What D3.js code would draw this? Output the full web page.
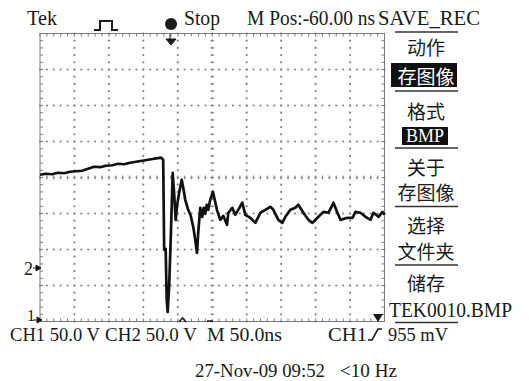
<!DOCTYPE html>
<html>
<head>
<meta charset="utf-8">
<script src="https://cdn.jsdelivr.net/npm/d3@7"></script>
<style>
  body { margin: 0; background: #fff; }
  svg { display: block; }
</style>
</head>
<body>
<div id="scope"></div>
<script>
// CH1 trace: time from left edge (ns), volts above CH1 ground
var timeNs = [0, 8.7, 17.4, 26.2, 34.9, 43.6, 52.3, 61.0, 69.8, 78.5, 87.2, 95.9, 104.7, 113.4, 122.1,
  130.8, 139.5, 148.3, 157.0, 165.7, 171.5, 175.9, 178.8,
  180.2, 182.4, 183.9, 185.3, 187.5, 189.7, 192.6, 194.8, 196.9, 199.1, 202.0, 205.7, 207.9, 210.8,
  215.1, 218.8, 222.4, 225.3, 227.8, 229.7, 232.6, 235.5, 237.6, 239.8, 242.0, 244.2, 247.1, 251.0,
  253.6, 256.8, 261.6, 266.0, 271.4, 273.3, 279.1, 283.4, 287.8, 293.6, 298.0, 305.2, 312.5, 319.8,
  327.0, 334.3, 338.7, 345.9, 351.7, 356.1, 363.4, 370.6, 375.0, 382.3, 389.5, 395.4, 402.6, 411.3,
  418.6, 425.9, 431.7, 436.1, 446.2, 453.5, 457.9, 465.1, 472.4, 479.7, 484.0, 491.3, 497.1, 500];
var volts = [203.8, 205.2, 204.5, 206.6, 205.9, 208.0, 208.7, 209.4, 212.2, 214.9, 214.3, 216.3, 217.0, 219.1, 218.4,
  220.5, 221.9, 223.3, 224.7, 226.1, 226.8, 227.5, 224.7,
  99.5, 100.9, 30.0, 13.2, 50.8, 113.4, 206.6, 176.0, 141.2, 162.1, 178.8, 196.9, 185.7, 169.0,
  155.1, 146.8, 131.5, 113.4, 95.3, 124.5, 157.9, 145.3, 157.9, 149.6, 162.1, 155.1, 169.0, 180.2,
  169.0, 155.1, 141.2, 146.8, 134.3, 151.0, 157.9, 148.2, 155.1, 164.9, 148.2, 144.0, 137.0, 151.0,
  155.1, 159.3, 155.1, 141.2, 137.0, 145.4, 155.1, 157.9, 162.1, 151.0, 141.2, 137.0, 144.0, 152.3,
  151.0, 164.9, 151.0, 141.2, 144.0, 144.0, 152.3, 151.0, 145.4, 141.2, 151.0, 145.4, 152.3, 148.2];

var timeTicks = d3.range(0, 501, 50);     // 10 div, 50 ns/div
var voltTicks = d3.range(0, 401, 50);     // 8 div, 50 V/div
var timeMinor = d3.range(0, 501, 10);
var voltMinor = d3.range(0, 401, 10);

var headerText = ["Tek", "Stop", "M Pos:-60.00 ns", "SAVE_REC"];
var footerText = ["CH1 50.0 V", "CH2 50.0 V", "M 50.0ns", "CH1", "955 mV"];
var statusText = ["27-Nov-09 09:52", "<10 Hz"];
var menuLabels = ["动作", "存图像", "格式", "BMP", "关于", "存图像", "选择", "文件夹", "储存", "TEK0010.BMP"];

var width = 529, height = 381;
var serif = "'Liberation Serif', 'DejaVu Serif', serif";
var cjk = "'Noto Sans CJK SC', sans-serif";
var ink = "#1a1a1a";

var svg = d3.select("#scope").append("svg")
    .attr("width", width)
    .attr("height", height);

var x = d3.scaleLinear().domain([0, 500]).range([40, 384.5]);
var y = d3.scaleLinear().domain([0, 400]).range([321.5, 33.5]);

// graticule dots
var grid = svg.append("g").attr("fill", "#858585");
timeTicks.slice(1, -1).forEach(function(t) {
    grid.selectAll(null).data(voltMinor).enter()
        .append("circle")
        .attr("cx", x(t)).attr("cy", v => y(v)).attr("r", 1.1);
});
voltTicks.slice(1, -1).forEach(function(v) {
    grid.selectAll(null).data(timeMinor).enter()
        .append("circle")
        .attr("cx", t => x(t)).attr("cy", y(v)).attr("r", 1.1);
});

// centre cross ticks
var cross = svg.append("g").attr("stroke", "#8c8c8c").attr("stroke-width", 1);
cross.selectAll(null).data(timeMinor).enter().append("line")
    .attr("x1", t => x(t)).attr("x2", t => x(t))
    .attr("y1", y(200) - 2).attr("y2", y(200) + 2);
cross.selectAll(null).data(voltMinor).enter().append("line")
    .attr("y1", v => y(v)).attr("y2", v => y(v))
    .attr("x1", x(250) - 2).attr("x2", x(250) + 2);

// frame with minor ticks
var frame = svg.append("g").attr("stroke", "#7a7a7a").attr("stroke-width", 1).attr("fill", "none");
frame.append("rect")
    .attr("x", x(0)).attr("y", y(400))
    .attr("width", x(500) - x(0)).attr("height", y(0) - y(400));
frame.selectAll(null).data(timeMinor).enter().append("path")
    .attr("d", t => "M" + x(t) + "," + y(400) + "v3M" + x(t) + "," + y(0) + "v-3");
frame.selectAll(null).data(voltMinor).enter().append("path")
    .attr("d", v => "M" + x(0) + "," + y(v) + "h3M" + x(500) + "," + y(v) + "h-3");

// waveform
var line = d3.line()
    .x((d, i) => x(timeNs[i]))
    .y(d => y(d));
svg.append("path")
    .datum(volts)
    .attr("d", line)
    .attr("fill", "none")
    .attr("stroke", "#111")
    .attr("stroke-width", 2.7)
    .attr("stroke-linejoin", "round");

// header
var head = svg.append("g").attr("font-family", serif).attr("font-size", 20).attr("fill", ink);
var headPos = [[27, 30], [184, 36], [247, 128], [378, 102]];
head.selectAll("text").data(headerText).enter().append("text")
    .attr("x", (d, i) => headPos[i][0]).attr("y", 25)
    .attr("textLength", (d, i) => headPos[i][1])
    .attr("lengthAdjust", "spacingAndGlyphs")
    .text(d => d);

// run-state icons
svg.append("path").attr("d", "M94,30H100V21H112V30H118")
    .attr("fill", "none").attr("stroke", ink).attr("stroke-width", 2);
svg.append("circle").attr("cx", 171).attr("cy", 24).attr("r", 6).attr("fill", ink);
svg.append("path").attr("d", "M170,34V40M166,39L171,45L176,39Z").attr("stroke", ink).attr("fill", ink);

// footer
var foot = svg.append("g").attr("font-family", serif).attr("font-size", 19).attr("fill", ink);
var footPos = [[10, 90], [105, 92], [207, 75], [328, 39], [388, 60]];
foot.selectAll("text").data(footerText).enter().append("text")
    .attr("x", (d, i) => footPos[i][0]).attr("y", 341)
    .attr("textLength", (d, i) => footPos[i][1])
    .attr("lengthAdjust", "spacingAndGlyphs")
    .text(d => d);
svg.append("path").attr("d", "M368,340H372L378,329H382")
    .attr("fill", "none").attr("stroke", ink).attr("stroke-width", 1.6);
var statusPos = [[195, 130], [340, 57]];
svg.append("g").attr("font-family", serif).attr("font-size", 19).attr("fill", ink)
    .selectAll("text").data(statusText).enter().append("text")
    .attr("x", (d, i) => statusPos[i][0]).attr("y", 377)
    .attr("textLength", (d, i) => statusPos[i][1])
    .attr("lengthAdjust", "spacingAndGlyphs")
    .text(d => d);

// channel ground markers
svg.append("text").attr("x", 24).attr("y", 275).attr("font-family", serif).attr("font-size", 18)
    .attr("fill", ink).text("2");
svg.append("path").attr("d", "M33,268H37M36,265L41,268L36,271Z").attr("stroke", ink).attr("fill", ink);
svg.append("text").attr("x", 27).attr("y", 321).attr("font-family", serif).attr("font-size", 16)
    .attr("fill", ink).text("1");
svg.append("path").attr("d", "M33,320H38M37,317L42,320L37,323Z").attr("stroke", ink).attr("fill", ink);
svg.append("path").attr("d", "M179,322L182.5,318L186,322").attr("fill", "none").attr("stroke", ink).attr("stroke-width", 1.5);
svg.append("path").attr("d", "M207,321H213").attr("stroke", ink).attr("stroke-width", 1.5);
svg.append("path").attr("d", "M373,314L383,314L378,322Z").attr("fill", ink);

// side menu
var menu = svg.append("g");
var cx = 426;
[32, 91, 148, 206.5, 265, 322.5].forEach(function(ly) {
    menu.append("line").attr("x1", 395).attr("x2", 458).attr("y1", ly).attr("y2", ly)
        .attr("stroke", "#333").attr("stroke-width", 1.5);
});
menu.append("rect").attr("x", 391).attr("y", 63).attr("width", 66).attr("height", 24).attr("fill", "#111");
menu.append("rect").attr("x", 402).attr("y", 127).attr("width", 46).attr("height", 18).attr("fill", "#111");
var menuY = [46.5, 75, 110, 136, 166.5, 191.5, 224.5, 250, 282];
menuLabels.slice(0, 9).forEach(function(lbl, i) {
    var isBmp = lbl == "BMP";
    menu.append("text")
        .attr("x", isBmp ? 425 : cx).attr("y", menuY[i])
        .attr("text-anchor", "middle")
        .attr("dominant-baseline", "central")
        .attr("font-family", isBmp ? serif : cjk)
        .attr("font-size", isBmp ? 18 : 19)
        .attr("fill", (i == 1 || isBmp) ? "#fff" : ink)
        .text(lbl);
});
menu.append("text").attr("x", 389).attr("y", 317)
    .attr("font-family", serif).attr("font-size", 20).attr("fill", ink)
    .attr("textLength", 123).attr("lengthAdjust", "spacingAndGlyphs")
    .text(menuLabels[9]);
</script>
</body>
</html>
